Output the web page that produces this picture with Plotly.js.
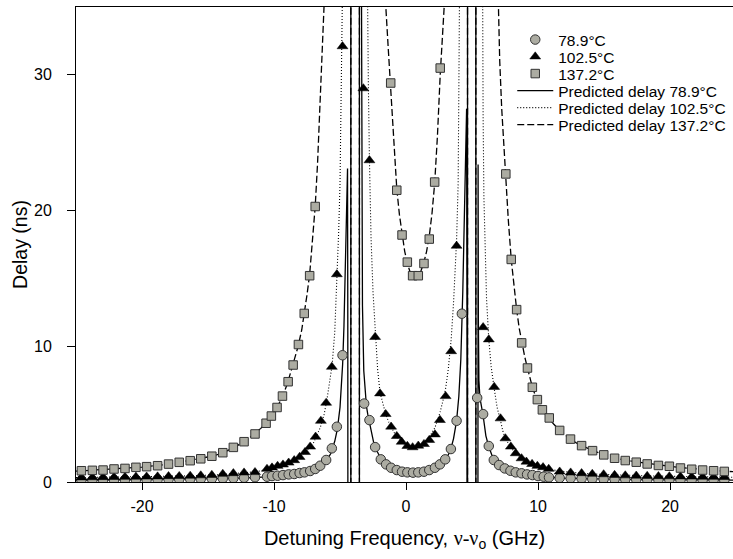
<!DOCTYPE html>
<html>
<head>
<meta charset="utf-8">
<script src="https://cdn.plot.ly/plotly-3.0.1.min.js"></script>
<style>html,body{margin:0;padding:0;background:#fff;}#chart{width:733px;height:559px;}</style>
</head>
<body>
<div id="chart"></div>
<script>
// ---- measured data (Delay in ns vs detuning in GHz) ----
const x789 = [-24.59,-23.76,-22.95,-22.12,-21.29,-20.46,-19.65,-18.82,-17.99,-17.18,-16.35,-15.55,-14.71,-13.88,-13.08,-12.27,-11.44,
  -10.53,-10.15,-9.73,-9.32,-8.89,-8.47,-8.06,-7.69,-7.26,-6.88,-6.50,-6.05,-5.62,-5.24,-4.81,
  -3.17,-2.77,-2.34,-1.91,-1.51,-1.13,-0.70,-0.30,0.10,0.53,0.93,1.36,1.76,2.19,2.57,2.97,3.40,3.83,4.23,
  5.39,5.84,6.27,6.65,7.05,7.48,7.91,8.31,8.75,9.17,9.58,10.00,10.43,10.83,
  11.64,12.47,13.30,14.11,14.97,15.80,16.61,17.44,18.27,19.12,19.95,20.79,21.64,22.47,23.30,24.11];
const y789 = [0.14,0.14,0.15,0.15,0.16,0.16,0.17,0.18,0.19,0.20,0.21,0.22,0.24,0.26,0.28,0.31,0.35,
  0.39,0.44,0.46,0.51,0.56,0.59,0.66,0.71,0.81,0.96,1.20,1.62,2.48,4.07,9.34,
  5.78,4.56,2.57,1.67,1.30,1.05,0.88,0.76,0.71,0.69,0.71,0.76,0.88,1.05,1.30,1.67,2.43,4.51,12.4,
  6.2,5.0,2.65,1.62,1.25,1.00,0.83,0.71,0.64,0.56,0.51,0.44,0.39,0.34,
  0.30,0.27,0.25,0.23,0.21,0.20,0.19,0.18,0.17,0.16,0.16,0.15,0.15,0.14,0.14,0.13];

const x1025 = [-24.59,-23.76,-22.95,-22.12,-21.29,-20.46,-19.65,-18.82,-17.99,-17.18,-16.35,-15.55,-14.71,-13.88,-13.08,-12.27,-11.44,
  -10.53,-10.15,-9.73,-9.32,-8.89,-8.47,-8.06,-7.65,-7.26,-6.85,-6.45,-6.05,-5.62,-5.24,-4.81,
  -3.23,-2.77,-2.34,-1.97,-1.54,-1.13,-0.70,-0.33,0.10,0.50,0.93,1.36,1.76,2.19,2.57,3.00,3.42,3.83,
  5.84,6.27,6.68,7.16,7.53,7.94,8.31,8.75,9.12,9.55,9.95,10.38,10.81,
  11.64,12.47,13.30,14.11,14.97,15.80,16.61,17.44,18.27,19.12,19.95,20.79,21.64,22.47,23.30,24.11];
const y1025 = [0.33,0.34,0.35,0.36,0.37,0.38,0.39,0.40,0.42,0.43,0.45,0.48,0.51,0.59,0.64,0.69,0.72,
  0.96,1.06,1.18,1.28,1.42,1.60,1.84,2.20,2.60,3.33,4.50,5.83,8.48,15.3,32.1,
  29.0,23.7,10.68,6.52,5.00,4.07,3.38,2.96,2.65,2.55,2.67,2.79,3.09,3.50,4.56,6.32,9.63,17.4,
  11.4,10.5,7.0,4.68,3.21,2.60,2.11,1.74,1.49,1.32,1.18,1.08,0.96,
  0.76,0.69,0.64,0.59,0.56,0.51,0.48,0.46,0.44,0.42,0.41,0.40,0.39,0.38,0.37,0.36];

const x1372 = [-24.59,-23.76,-22.95,-22.12,-21.29,-20.46,-19.65,-18.82,-17.99,-17.18,-16.35,-15.55,-14.71,-13.88,-13.08,-12.27,-11.44,
  -10.60,-10.20,-9.77,-9.36,-8.93,-8.55,-8.15,-7.71,-7.30,-6.88,
  -1.16,-0.70,-0.30,0.10,0.50,0.93,1.36,1.76,2.17,2.59,
  7.56,7.97,8.38,8.76,9.20,9.57,9.95,10.33,10.85,
  11.64,12.46,13.30,14.13,14.98,15.80,16.61,17.44,18.27,19.12,19.95,20.79,21.64,22.47,23.30,24.11];
const y1372 = [0.83,0.86,0.88,0.96,1.00,1.08,1.13,1.20,1.32,1.45,1.57,1.71,1.90,2.16,2.55,2.97,3.54,
  4.33,4.86,5.49,6.33,7.39,8.62,10.13,12.42,15.2,20.3,
  29.4,21.5,18.2,16.2,15.2,15.2,16.1,17.9,22.1,30.5,
  22.7,16.4,12.7,10.25,8.4,6.98,6.07,5.32,4.72,
  3.80,3.16,2.68,2.31,2.00,1.75,1.58,1.46,1.33,1.22,1.16,1.03,0.94,0.88,0.83,0.78];

// ---- predicted curves (null = break) ----
const xP789 = [-25,-24,-22,-20,-18,-16,-14,-12,-11,-10,-9,-8,-7.5,-7,-6.5,-6,-5.7,-5.4,-5.2,-5.0,-4.9,-4.8,-4.7,-4.6,-4.53,-4.47,-4.43,-4.41,-4.39,null,
  -4.18,-4.18,null,-3.53,-3.53,null,
  -3.45,-3.4,-3.35,-3.3,-3.2,-3.1,-3.0,-2.9,-2.77,-2.6,-2.45,-2.34,-2.1,-1.91,-1.5,-1.1,-0.7,-0.3,0.1,0.5,0.9,1.3,1.7,2.1,2.5,2.9,3.2,3.4,3.6,3.83,4.0,4.15,4.3,4.42,4.52,4.59,4.62,4.64,null,
  4.66,4.66,null,5.29,5.29,null,
  5.43,5.46,5.48,5.52,5.6,5.84,6.05,6.27,6.5,6.65,7.05,7.5,8,8.5,9,9.5,10,10.5,11,12,14,16,18,20,22,25];
const yP789 = [0.13,0.14,0.15,0.16,0.18,0.21,0.25,0.30,0.35,0.42,0.52,0.68,0.78,0.92,1.17,1.6,2.1,3.0,3.9,5.5,6.8,8.7,11.5,15.5,19.5,22.3,23.1,12,-40,null,
  -40,60,null,60,-40,null,
  60,35,20,13,8.2,6.5,5.6,5.0,4.4,3.5,2.9,2.57,2.05,1.7,1.3,1.05,0.88,0.77,0.71,0.69,0.71,0.76,0.86,1.02,1.26,1.62,2.0,2.45,3.2,4.5,6.3,9.0,14,19,23.5,27.5,12,-40,null,
  -40,60,null,60,-40,null,
  -40,23.4,12,7.5,6.2,4.9,3.4,2.6,1.9,1.6,1.22,0.98,0.80,0.68,0.59,0.52,0.45,0.39,0.35,0.29,0.23,0.19,0.17,0.15,0.14,0.13];

const xP1025 = [-25,-22,-20,-18,-16,-14,-13,-12,-11,-10.5,-10,-9.5,-9,-8.5,-8,-7.5,-7,-6.5,-6.2,-6.0,-5.8,-5.6,-5.4,-5.24,-5.1,-5.0,-4.9,-4.82,-4.76,-4.7,null,
  -3.0,-2.93,-2.85,-2.77,-2.65,-2.5,-2.34,-2.15,-1.97,-1.75,-1.54,-1.3,-1.13,-0.9,-0.7,-0.5,-0.33,-0.1,0.1,0.3,0.5,0.7,0.93,1.15,1.36,1.56,1.76,2.0,2.19,2.4,2.57,2.8,3.0,3.2,3.42,3.6,3.75,3.83,3.95,4.03,4.08,4.12,null,
  5.77,5.8,5.84,5.9,6.0,6.1,6.27,6.45,6.68,6.9,7.16,7.35,7.53,7.75,7.94,8.31,8.75,9.12,9.55,10,10.4,10.8,11.5,12.5,13.5,14.5,16,18,20,22,25];
const yP1025 = [0.32,0.35,0.38,0.41,0.46,0.55,0.62,0.70,0.82,0.95,1.07,1.22,1.40,1.62,1.90,2.3,2.9,4.0,5.0,6.0,7.2,8.6,11.0,14.5,18.5,22,27,32,37,45,null,
  45,36,29,23.7,18,14,11,8.3,6.6,5.7,5.0,4.4,4.05,3.65,3.35,3.1,2.95,2.78,2.66,2.58,2.55,2.58,2.66,2.78,2.92,3.1,3.3,3.7,4.0,4.6,5.1,6.0,6.9,8.3,10.5,13.2,16,17.8,22,28,35,45,null,
  45,35,27,21,16,13.5,10.5,8.5,6.9,5.5,4.5,3.7,3.2,2.85,2.55,2.1,1.75,1.5,1.32,1.18,1.07,0.97,0.82,0.70,0.63,0.58,0.52,0.46,0.42,0.39,0.35];

const xP1372 = [-25,-24,-22,-20,-18,-16,-14.7,-14,-13,-12,-11.4,-11,-10.6,-10.2,-9.8,-9.4,-9.0,-8.6,-8.2,-7.9,-7.7,-7.5,-7.3,-7.1,-6.88,-6.7,-6.5,-6.3,-6.12,-6.0,null,
  -4.18,-4.18,null,-3.53,-3.53,null,
  -1.62,-1.53,-1.35,-1.16,-0.95,-0.7,-0.5,-0.3,-0.1,0.1,0.3,0.5,0.72,0.93,1.15,1.36,1.56,1.76,1.97,2.17,2.38,2.59,2.75,2.92,3.0,null,
  4.66,4.66,null,5.29,5.29,null,
  6.88,6.98,7.1,7.25,7.4,7.56,7.75,7.97,8.18,8.38,8.58,8.76,9.0,9.2,9.4,9.57,9.75,9.95,10.15,10.33,10.6,10.85,11.2,11.64,12,12.46,13,13.5,14.13,15,16,17,18,19,20,21,22,23,24,25];
const yP1372 = [0.80,0.85,0.95,1.10,1.30,1.65,1.90,2.10,2.55,3.15,3.6,3.95,4.35,4.85,5.45,6.2,7.2,8.5,9.9,11.2,12.4,13.8,15.3,17.5,20.3,23.5,27.5,31.5,35,40,null,
  60,-40,null,-40,60,null,
  40,35,32,29.0,25,21.6,19.7,18.2,17.0,16.1,15.5,15.15,15.0,15.2,15.6,16.2,17.0,18.1,19.8,22.0,25.5,30.0,33,35.5,40,null,
  60,-40,null,-40,60,null,
  40,35,31,27.5,24.8,22.7,19.3,16.4,14.3,12.7,11.3,10.3,9.2,8.4,7.6,7.0,6.5,6.05,5.65,5.32,4.95,4.65,4.25,3.82,3.5,3.15,2.82,2.58,2.32,2.03,1.73,1.55,1.40,1.27,1.15,1.05,0.95,0.87,0.80,0.75];

const xTicks = [-20,-10,0,10,20];
const xTickText = ['-20','-10','0','10','20'];
const yTicks = [0,10,20,30];

const FONT = 'Liberation Sans, Arial, sans-serif';
const markFill = 'rgb(172,172,162)';

const traces = [
  {x:xP789, y:yP789, mode:'lines', name:'Predicted delay 78.9°C', legend:'legend4',
   line:{color:'#000', width:1.3}, connectgaps:false},
  {x:xP1025, y:yP1025, mode:'lines', name:'Predicted delay 102.5°C', legend:'legend5',
   line:{color:'#000', width:1.1, dash:'1px,2px'}, connectgaps:false},
  {x:xP1372, y:yP1372, mode:'lines', name:'Predicted delay 137.2°C', legend:'legend6',
   line:{color:'#000', width:1.3, dash:'7px,3px'}, connectgaps:false},
  {x:x789, y:y789, mode:'markers', name:'78.9°C', legend:'legend',
   marker:{symbol:'circle', size:9.5, color:markFill, line:{color:'#333', width:1}}},
  {x:x1025, y:y1025, mode:'markers', name:'102.5°C', legend:'legend2',
   marker:{symbol:'triangle-up', size:9.5, color:'#000', line:{color:'#000', width:0.5}}},
  {x:x1372, y:y1372, mode:'markers', name:'137.2°C', legend:'legend3',
   marker:{symbol:'square', size:8.5, color:markFill, line:{color:'#333', width:1}}}
];

// legend rows placed 17 px apart (paper coords of plot area: top 7px, height 475px)
const rowY = [40,57,74,91,108,125];
function legendAt(py){
  return {x:0.664, y:1-(py-7)/475, xanchor:'left', yanchor:'middle', bgcolor:'rgba(0,0,0,0)',
          borderwidth:0, itemwidth:36, font:{family:FONT, size:15.5, color:'#000'}};
}

const layout = {
  width:733, height:559,
  margin:{l:76, r:0, t:7, b:77},
  paper_bgcolor:'#fff', plot_bgcolor:'#fff',
  font:{family:FONT, color:'#000', size:16},
  showlegend:true,
  legend:legendAt(rowY[0]), legend2:legendAt(rowY[1]), legend3:legendAt(rowY[2]),
  legend4:legendAt(rowY[3]), legend5:legendAt(rowY[4]), legend6:legendAt(rowY[5]),
  xaxis:{range:[-25,24.77], tickvals:xTicks, ticktext:xTickText, ticks:'outside', ticklen:7, tickwidth:1, tickcolor:'#000',
         showgrid:false, zeroline:false, showline:true, linecolor:'#000', linewidth:1, mirror:true,
         tickfont:{family:FONT, size:16}, ticklabelstandoff:3,
         title:{text:'Detuning Frequency, <span style="font-family:Liberation Serif, Times New Roman, serif">ν-ν</span><sub>o</sub> (GHz)', font:{family:FONT, size:20}, standoff:16}},
  yaxis:{range:[0,35], tickvals:yTicks, ticks:'outside', ticklen:8, tickwidth:1, tickcolor:'#000',
         showgrid:false, zeroline:false, showline:true, linecolor:'#000', linewidth:1, mirror:false,
         tickfont:{family:FONT, size:16}, ticklabelstandoff:12,
         title:{text:'Delay (ns)', font:{family:FONT, size:19.5}, standoff:1}}
};

Plotly.newPlot('chart', traces, layout, {staticPlot:true, displayModeBar:false});
</script>
</body>
</html>
